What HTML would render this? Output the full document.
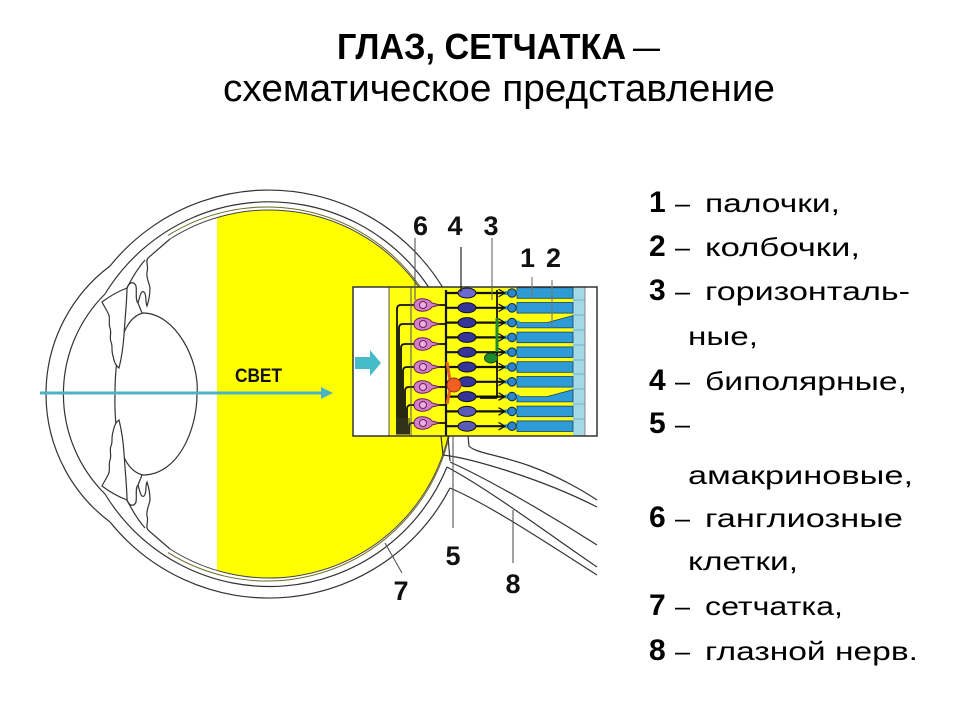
<!DOCTYPE html>
<html><head><meta charset="utf-8"><style>
html,body{margin:0;padding:0;background:#fff;}
svg{display:block;}
text{font-family:"Liberation Sans","DejaVu Sans",sans-serif;}
</style></head><body>
<svg width="960" height="720" viewBox="0 0 960 720" xmlns="http://www.w3.org/2000/svg">
<rect width="960" height="720" fill="#fff"/>

<!-- Title -->
<text x="337" y="59" font-size="36" font-weight="bold" fill="#000" textLength="289" lengthAdjust="spacingAndGlyphs">ГЛАЗ, СЕТЧАТКА</text>
<text x="633" y="59" font-size="36" fill="#000" textLength="27" lengthAdjust="spacingAndGlyphs">–</text>
<text x="223" y="101" font-size="38" fill="#000" textLength="552" lengthAdjust="spacingAndGlyphs">схематическое представление</text>

<!-- Yellow vitreous -->
<path d="M217,217.5 A184,184 0 1,1 217,570.5 Z" fill="#ffff00"/>

<g fill="none" stroke="#333" stroke-width="1.2">
  <path d="M110,266 A204,204 0 0,1 468,350"/>
  <path d="M450,488 A204,204 0 0,1 110,522"/>
  <path d="M110,522 A160,160 0 0,1 110,266"/>
  <path d="M105,294 A192,192 0 0,1 458,360"/>
  <path d="M447,467 A192,192 0 0,1 105,494"/>
  <path d="M105,494 A141,141 0 0,1 105,294"/>
  <path d="M170,239 A184,184 0 1,1 170,549" stroke="#444" stroke-width="1"/>
  <path d="M168,235.4 A187,187 0 1,1 168,552.6" stroke="#6a6a20" stroke-width="1"/>
  <path d="M468,436 L469,446 C475,453 500,455 530,466 S585,492 597,500"/>
  <path d="M443,455 C470,458 540,478 597,507"/>
  <path d="M450,462 C490,480 550,515 597,545"/>
  <path d="M447,467 C490,490 550,535 597,567"/>
  <path d="M450,488 C490,505 550,545 597,575"/>
  <path d="M441,436 L443,455"/>
  <path d="M448,436 L450,461"/>
  <path d="M143,313 C175,313 200,360 197,394 C197,430 178,475 143,475 C120,470 114,430 115,394 C115,355 122,318 143,313 Z" fill="#fff"/>
</g>

<g id="cil" fill="none" stroke="#333" stroke-width="1.2">
  <path d="M102,302 C110,296 119,291 127,288 C127,300 125,318 124,335 C123,350 121,360 119,368 C116,366 114,362 113,356 C111,350 113,346 111,342 C109,337 112,333 110,328 C108,322 111,318 108,313 C106,309 104,306 102,302 Z" fill="#fff"/>
  <path d="M127,288 C129,282 134,281 136,286 C137,292 135,300 138,303 C140,296 141,290 144,292 C147,295 145,302 147,306 C149,300 150,294 150,288 C149,282 146,278 147,272 C149,266 145,262 148,258 C155,252 162,246 170,239"/>
  <path d="M127,288 C132,278 138,268 145,260"/>
  <path d="M138,303 L142,313"/>
</g>
<use href="#cil" transform="matrix(1 0 0 -1 0 788)"/>

<line x1="40" y1="393" x2="324" y2="393" stroke="#4ab4c4" stroke-width="3"/>
<path d="M321,387 L333,393 L321,399 Z" fill="#4ab4c4"/>
<text x="235" y="382" font-size="19" font-weight="bold" fill="#111" textLength="47" lengthAdjust="spacingAndGlyphs">СВЕТ</text>

<!-- Retina box -->
<rect x="353" y="287" width="244" height="149" fill="#fff"/>
<rect x="389" y="287" width="184" height="149" fill="#ffff10"/>
<rect x="573" y="287" width="12" height="149" fill="#a6d9e8"/>
<g stroke="#5fa8c0" stroke-width="0.8">
  <line x1="573" y1="300" x2="585" y2="300"/><line x1="573" y1="315" x2="585" y2="315"/>
  <line x1="573" y1="330" x2="585" y2="330"/><line x1="573" y1="345" x2="585" y2="345"/>
  <line x1="573" y1="360" x2="585" y2="360"/><line x1="573" y1="374" x2="585" y2="374"/>
  <line x1="573" y1="389" x2="585" y2="389"/><line x1="573" y1="404" x2="585" y2="404"/>
  <line x1="573" y1="419" x2="585" y2="419"/>
</g>
<line x1="585" y1="287" x2="585" y2="436" stroke="#888" stroke-width="1"/>
<line x1="389" y1="287" x2="389" y2="436" stroke="#555" stroke-width="1"/>

<path d="M355,357 L370,357 L370,350 L381,363 L370,376 L370,369 L355,369 Z" fill="#45bcc8"/>

<g stroke-linecap="round">
<rect x="517" y="287.7" width="56" height="10.6" fill="#2f9bd6" stroke="#17405f" stroke-width="0.8"/>
<rect x="517" y="302.5" width="56" height="10.6" fill="#2f9bd6" stroke="#17405f" stroke-width="0.8"/>
<path d="M517,322.6 L547,322.6 L573,315.6 L573,327.9 L517,327.9 Z" fill="#2f9bd6" stroke="#17405f" stroke-width="0.8"/>
<rect x="517" y="332.1" width="56" height="10.6" fill="#2f9bd6" stroke="#17405f" stroke-width="0.8"/>
<rect x="517" y="346.9" width="56" height="10.6" fill="#2f9bd6" stroke="#17405f" stroke-width="0.8"/>
<rect x="517" y="361.7" width="56" height="10.6" fill="#2f9bd6" stroke="#17405f" stroke-width="0.8"/>
<rect x="517" y="376.5" width="56" height="10.6" fill="#2f9bd6" stroke="#17405f" stroke-width="0.8"/>
<path d="M517,396.6 L547,396.6 L573,389.6 L573,401.9 L517,401.9 Z" fill="#2f9bd6" stroke="#17405f" stroke-width="0.8"/>
<rect x="517" y="406.1" width="56" height="10.6" fill="#2f9bd6" stroke="#17405f" stroke-width="0.8"/>
<rect x="517" y="420.9" width="56" height="10.6" fill="#2f9bd6" stroke="#17405f" stroke-width="0.8"/>

<g stroke="#111" stroke-width="2.2">
<line x1="446" y1="293" x2="506" y2="293"/><line x1="446" y1="307.8" x2="506" y2="307.8"/>
<line x1="446" y1="322.6" x2="506" y2="322.6"/><line x1="446" y1="337.4" x2="506" y2="337.4"/>
<line x1="446" y1="352.2" x2="506" y2="352.2"/><line x1="446" y1="367" x2="506" y2="367"/>
<line x1="446" y1="381.8" x2="506" y2="381.8"/><line x1="446" y1="396.6" x2="506" y2="396.6"/>
<line x1="446" y1="411.4" x2="506" y2="411.4"/><line x1="446" y1="426.2" x2="506" y2="426.2"/>
</g>
<g stroke="#2f9bd6" stroke-width="4">
<line x1="506" y1="293" x2="518" y2="293"/><line x1="506" y1="307.8" x2="518" y2="307.8"/>
<line x1="506" y1="322.6" x2="518" y2="322.6"/><line x1="506" y1="337.4" x2="518" y2="337.4"/>
<line x1="506" y1="352.2" x2="518" y2="352.2"/><line x1="506" y1="367" x2="518" y2="367"/>
<line x1="506" y1="381.8" x2="518" y2="381.8"/><line x1="506" y1="396.6" x2="518" y2="396.6"/>
<line x1="506" y1="411.4" x2="518" y2="411.4"/><line x1="506" y1="426.2" x2="518" y2="426.2"/>
</g>
<g fill="none" stroke="#111" stroke-width="1.3">
<path d="M499,289.5 L505,293 L499,296.5"/><path d="M499,304.3 L505,307.8 L499,311.3"/>
<path d="M499,319.1 L505,322.6 L499,326.1"/><path d="M499,333.9 L505,337.4 L499,340.9"/>
<path d="M499,348.7 L505,352.2 L499,355.7"/><path d="M499,363.5 L505,367 L499,370.5"/>
<path d="M499,378.3 L505,381.8 L499,385.3"/><path d="M499,393.1 L505,396.6 L499,400.1"/>
<path d="M499,407.9 L505,411.4 L499,414.9"/><path d="M499,422.7 L505,426.2 L499,429.7"/>
</g>
<g fill="#2d86cc" stroke="#0d2a50" stroke-width="1">
<circle cx="512" cy="293" r="4.3"/><circle cx="512" cy="307.8" r="4.3"/><circle cx="512" cy="322.6" r="4.3"/>
<circle cx="512" cy="337.4" r="4.3"/><circle cx="512" cy="352.2" r="4.3"/><circle cx="512" cy="367" r="4.3"/>
<circle cx="512" cy="381.8" r="4.3"/><circle cx="512" cy="396.6" r="4.3"/><circle cx="512" cy="411.4" r="4.3"/>
<circle cx="512" cy="426.2" r="4.3"/>
</g>
<g fill="#34349a" stroke="#111" stroke-width="1">
<ellipse cx="467" cy="293" rx="9" ry="5" fill="#6a6ad0"/><ellipse cx="467" cy="307.8" rx="9" ry="5"/>
<ellipse cx="467" cy="322.6" rx="9" ry="5"/><ellipse cx="467" cy="337.4" rx="9" ry="5"/>
<ellipse cx="467" cy="352.2" rx="9" ry="5"/><ellipse cx="467" cy="367" rx="9" ry="5"/>
<ellipse cx="467" cy="381.8" rx="9" ry="5"/><ellipse cx="467" cy="396.6" rx="9" ry="5"/>
<ellipse cx="467" cy="411.4" rx="9" ry="5" fill="#5a5ab8"/><ellipse cx="467" cy="426.2" rx="9" ry="5" fill="#5a5ab8"/>
</g>
</g>

<line x1="446" y1="290" x2="446" y2="436" stroke="#111" stroke-width="2.2"/>
<line x1="497" y1="290" x2="497" y2="398" stroke="#111" stroke-width="1.8"/>
<line x1="497" y1="398" x2="480" y2="398" stroke="#111" stroke-width="1.8"/>
<path d="M497,318 L497,352" stroke="#1e8a2e" stroke-width="3"/>
<ellipse cx="491" cy="358" rx="6.5" ry="5" fill="#1e8a2e" stroke="#0d4a15"/>
<path d="M447,362 L450,380" stroke="#e8651e" stroke-width="3"/>
<path d="M450,390 L447,404" stroke="#e8651e" stroke-width="3"/>
<circle cx="454" cy="385" r="7" fill="#f06020" stroke="#a03010"/>

<g fill="none" stroke="#111" stroke-width="1.8">
<path d="M415,305 L401,305 Q397,305 397,309 L397,434"/>
<path d="M415,324 L403,324 Q399,324 399,328 L399,434"/>
<path d="M415,344 L405,344 Q401,344 401,348 L401,434"/>
<path d="M415,367 L407,367 Q403,367 403,371 L403,434"/>
<path d="M415,387 L409,387 Q405,387 405,391 L405,434"/>
<path d="M415,405 L411,405 Q407,405 407,409 L407,434"/>
<path d="M415,423 L412,423 Q409,423 409,427 L409,434"/>
<line x1="438" y1="305" x2="446" y2="305"/><line x1="438" y1="324" x2="446" y2="324"/>
<line x1="438" y1="344" x2="446" y2="344"/><line x1="438" y1="367" x2="446" y2="367"/>
<line x1="438" y1="387" x2="446" y2="387"/><line x1="438" y1="405" x2="446" y2="405"/>
<line x1="438" y1="423" x2="446" y2="423"/>
</g>
<line x1="411" y1="287" x2="411" y2="436" stroke="#555" stroke-width="1"/>
<rect x="396" y="418" width="14" height="17" fill="#3a3a20" opacity="0.55"/>
<g fill="#d47ec8" stroke="#6a2060" stroke-width="1">
<path d="M414,305 C414,297 428,297 432,303 L440,305 L432,307 C428,313 414,313 414,305 Z"/>
<path d="M414,324 C414,316 428,316 432,322 L440,324 L432,326 C428,332 414,332 414,324 Z"/>
<path d="M414,344 C414,336 428,336 432,342 L440,344 L432,346 C428,352 414,352 414,344 Z"/>
<path d="M414,367 C414,359 428,359 432,365 L440,367 L432,369 C428,375 414,375 414,367 Z"/>
<path d="M414,387 C414,379 428,379 432,385 L440,387 L432,389 C428,395 414,395 414,387 Z"/>
<path d="M414,405 C414,397 428,397 432,403 L440,405 L432,407 C428,413 414,413 414,405 Z"/>
<path d="M414,423 C414,415 428,415 432,421 L440,423 L432,425 C428,431 414,431 414,423 Z"/>
</g>
<g fill="#eab0e0" stroke="#6a2060" stroke-width="1">
<circle cx="423" cy="305" r="3.5"/><circle cx="423" cy="324" r="3.5"/><circle cx="423" cy="344" r="3.5"/>
<circle cx="423" cy="367" r="3.5"/><circle cx="423" cy="387" r="3.5"/><circle cx="423" cy="405" r="3.5"/>
<circle cx="423" cy="423" r="3.5"/>
</g>

<rect x="353" y="287" width="244" height="149" fill="none" stroke="#333" stroke-width="1.5"/>

<g stroke-width="1.1">
<line x1="415" y1="238" x2="415" y2="300" stroke="#555"/>
<line x1="461" y1="247" x2="461" y2="292" stroke="#111"/>
<line x1="492" y1="238" x2="492" y2="300" stroke="#666"/>
<line x1="532" y1="277" x2="532" y2="297" stroke="#777"/>
<line x1="552" y1="280" x2="552" y2="327" stroke="#777"/>
<line x1="453" y1="436" x2="453" y2="528" stroke="#555"/>
<line x1="513" y1="510" x2="513" y2="563" stroke="#555"/>
<line x1="385" y1="543" x2="402" y2="573" stroke="#555"/>
</g>

<g font-size="27" font-weight="bold" fill="#111" text-anchor="middle">
<text x="420.5" y="235">6</text>
<text x="455" y="235">4</text>
<text x="491" y="235">3</text>
<text x="527.5" y="267">1</text>
<text x="553.5" y="267">2</text>
<text x="453" y="565">5</text>
<text x="513" y="593">8</text>
<text x="401" y="600">7</text>
</g>

<!-- legend -->
<g fill="#000">
<g font-size="30" font-weight="bold">
<text x="649" y="212">1</text>
<text x="649" y="256">2</text>
<text x="649" y="300">3</text>
<text x="649" y="390">4</text>
<text x="649" y="433">5</text>
<text x="649" y="527">6</text>
<text x="649" y="615">7</text>
<text x="649" y="660">8</text>
</g>
<g font-size="26">
<text x="675" y="212" textLength="15" lengthAdjust="spacingAndGlyphs">–</text>
<text x="675" y="256" textLength="15" lengthAdjust="spacingAndGlyphs">–</text>
<text x="675" y="300" textLength="15" lengthAdjust="spacingAndGlyphs">–</text>
<text x="675" y="390" textLength="15" lengthAdjust="spacingAndGlyphs">–</text>
<text x="675" y="433" textLength="15" lengthAdjust="spacingAndGlyphs">–</text>
<text x="675" y="527" textLength="15" lengthAdjust="spacingAndGlyphs">–</text>
<text x="675" y="615" textLength="15" lengthAdjust="spacingAndGlyphs">–</text>
<text x="675" y="660" textLength="15" lengthAdjust="spacingAndGlyphs">–</text>
<text x="705" y="212" textLength="135" lengthAdjust="spacingAndGlyphs">палочки,</text>
<text x="705" y="256" textLength="155" lengthAdjust="spacingAndGlyphs">колбочки,</text>
<text x="705" y="300" textLength="205" lengthAdjust="spacingAndGlyphs">горизонталь-</text>
<text x="688" y="345" textLength="70" lengthAdjust="spacingAndGlyphs">ные,</text>
<text x="705" y="390" textLength="202" lengthAdjust="spacingAndGlyphs">биполярные,</text>
<text x="688" y="484" textLength="225" lengthAdjust="spacingAndGlyphs">амакриновые,</text>
<text x="705" y="527" textLength="198" lengthAdjust="spacingAndGlyphs">ганглиозные</text>
<text x="688" y="570" textLength="110" lengthAdjust="spacingAndGlyphs">клетки,</text>
<text x="705" y="615" textLength="138" lengthAdjust="spacingAndGlyphs">сетчатка,</text>
<text x="705" y="660" textLength="213" lengthAdjust="spacingAndGlyphs">глазной нерв.</text>
</g>
</g>
</svg>
</body></html>
